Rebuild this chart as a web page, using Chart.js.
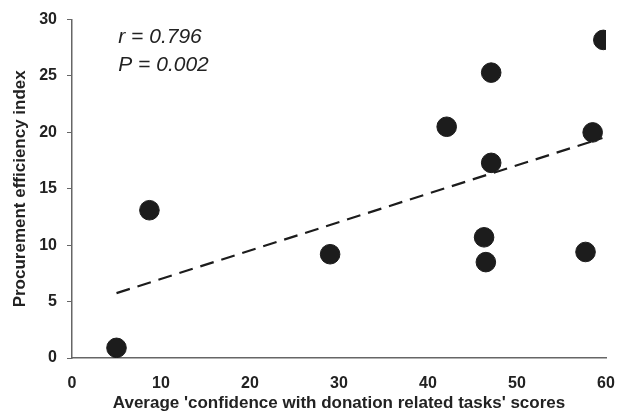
<!DOCTYPE html>
<html lang="en">
<head>
    <meta charset="UTF-8">
    <title>Procurement efficiency vs confidence</title>
    <script src="https://cdn.jsdelivr.net/npm/chart.js"></script>
    <style>
        body { margin: 0; background: #ffffff; }
        .chart-box { width: 617px; height: 415px; }
    </style>
</head>
<body>
    <div class="chart-box"><canvas id="scatterChart"></canvas></div>

    <script>
        // values
        const confidenceScores = [5, 8.7, 29, 42.1, 46.3, 46.5, 47.1, 47.1, 57.7, 58.5, 59.7];
        const efficiencyIndex = [0.9, 13.1, 9.2, 20.5, 10.7, 8.5, 25.3, 17.3, 9.4, 20.0, 28.2];
        const trendX = [5, 59.6];
        const trendY = [5.75, 19.5];
        const xTicks = [0, 10, 20, 30, 40, 50, 60];
        const yTicks = [0, 5, 10, 15, 20, 25, 30];
        const statLines = ['r = 0.796', 'P = 0.002'];

        const points = confidenceScores.map((x, i) => ({ x: x, y: efficiencyIndex[i] }));
        const trend = trendX.map((x, i) => ({ x: x, y: trendY[i] }));

        const tickFont = { family: "'Liberation Sans', Arial, sans-serif", size: 16, weight: 'bold' };
        const titleFont = { family: "'Liberation Sans', Arial, sans-serif", size: 17, weight: 'bold' };

        // r and P text in the top left of the plot
        const statsText = {
            id: 'statsText',
            afterDraw(chart) {
                const ctx = chart.ctx;
                const xs = chart.scales.x, ys = chart.scales.y;
                ctx.save();
                ctx.font = "italic 21px 'Liberation Sans', Arial, sans-serif";
                ctx.fillStyle = '#222';
                ctx.textBaseline = 'middle';
                ctx.fillText(statLines[0], xs.getPixelForValue(5.2), ys.getPixelForValue(28.4));
                ctx.fillText(statLines[1], xs.getPixelForValue(5.2), ys.getPixelForValue(26.0));
                ctx.restore();
            }
        };

        new Chart(document.getElementById('scatterChart'), {
            type: 'scatter',
            data: {
                datasets: [{
                    data: points,
                    backgroundColor: '#1c1c1c',
                    borderColor: '#1c1c1c',
                    pointRadius: 9.8,
                    order: 1
                }, {
                    type: 'line',
                    data: trend,
                    borderColor: '#1c1c1c',
                    borderWidth: 2.2,
                    borderDash: [14, 8],
                    pointRadius: 0,
                    fill: false,
                    order: 2
                }]
            },
            options: {
                responsive: true,
                maintainAspectRatio: false,
                animation: false,
                layout: { padding: { top: 19, right: 1, left: 10, bottom: 0 } },
                plugins: {
                    legend: { display: false },
                    tooltip: { enabled: false }
                },
                scales: {
                    x: {
                        type: 'linear',
                        min: 0,
                        max: 60,
                        afterBuildTicks: (axis) => { axis.ticks = xTicks.map(v => ({ value: v })); },
                        afterFit: (axis) => { axis.height = 57; axis.paddingRight = 11; },
                        ticks: { font: tickFont, color: '#222', padding: 16 },
                        grid: { drawOnChartArea: false, drawTicks: false },
                        border: { color: '#666', width: 1.5 },
                        title: {
                            display: true,
                            text: "Average 'confidence with donation related tasks' scores",
                            font: titleFont,
                            color: '#222',
                            padding: { top: 1, bottom: 1 }
                        }
                    },
                    y: {
                        min: 0,
                        max: 30,
                        afterBuildTicks: (axis) => { axis.ticks = yTicks.map(v => ({ value: v })); },
                        afterFit: (axis) => { axis.width = 62; },
                        ticks: { font: tickFont, color: '#222', padding: 10 },
                        grid: { drawOnChartArea: false, drawTicks: true, tickLength: 5, color: '#666' },
                        border: { color: '#666', width: 1.5 },
                        title: {
                            display: true,
                            text: 'Procurement efficiency index',
                            font: titleFont,
                            color: '#222',
                            padding: { top: 0, bottom: 9 }
                        }
                    }
                }
            },
            plugins: [statsText]
        });
    </script>
</body>
</html>
